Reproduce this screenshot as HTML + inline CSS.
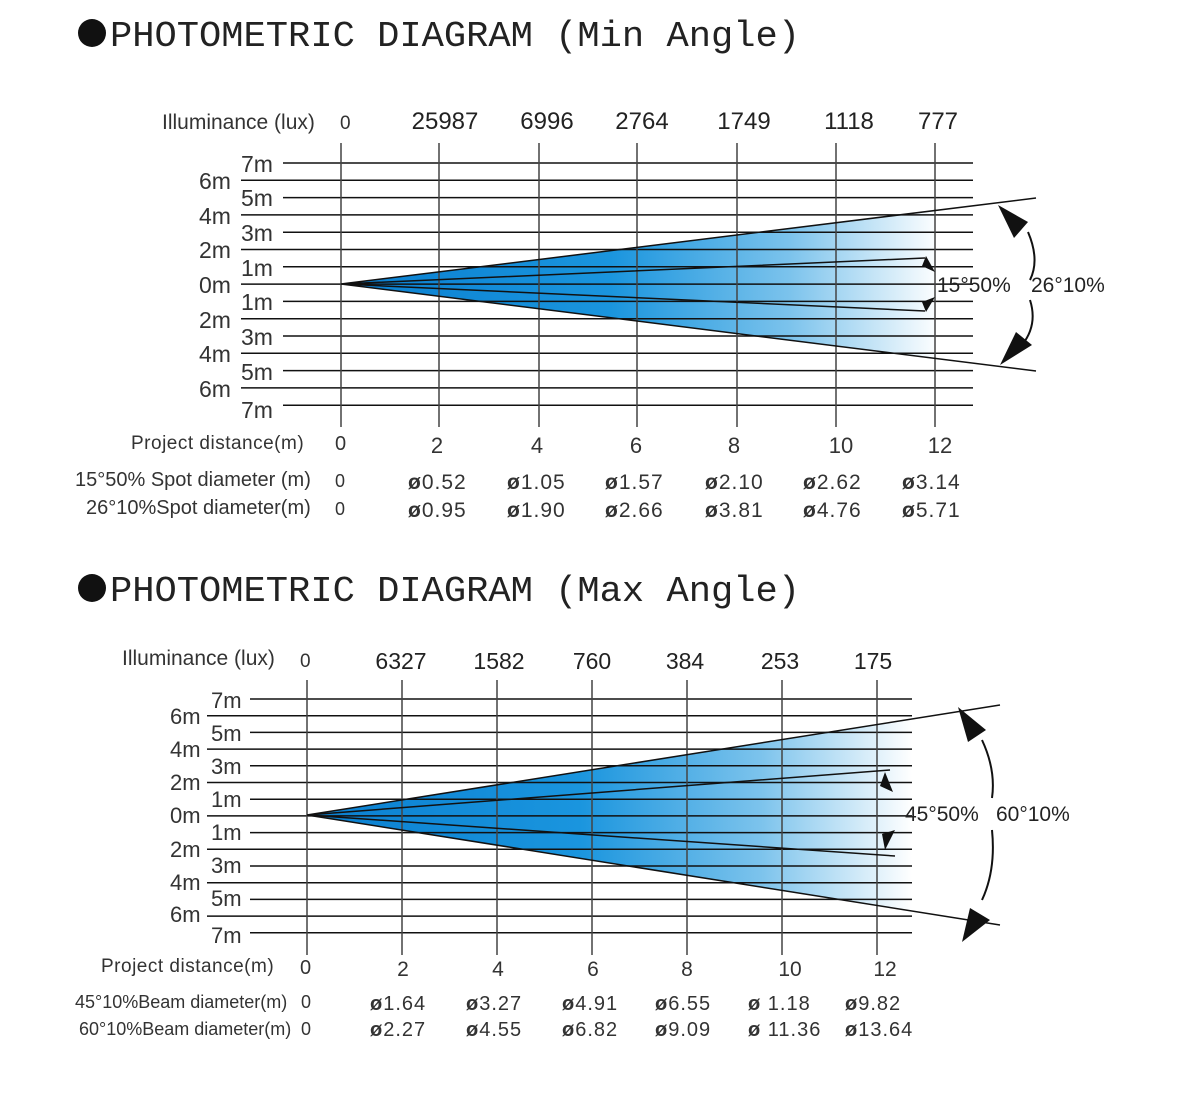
<!DOCTYPE html>
<html><head><meta charset="utf-8"><style>body{margin:0;background:#fff}svg{display:block}tspan.o{font-weight:bold}</style></head><body>
<svg width="1200" height="1094" viewBox="0 0 1200 1094" xmlns="http://www.w3.org/2000/svg" font-family="Liberation Sans, sans-serif" fill="#222">
<defs>
<linearGradient id="g1" gradientUnits="userSpaceOnUse" x1="341" y1="0" x2="940" y2="0">
<stop offset="0" stop-color="#0a7fd0"/><stop offset="0.45" stop-color="#1a95de"/><stop offset="0.75" stop-color="#7cc3ec"/><stop offset="1" stop-color="#ffffff"/></linearGradient>
<linearGradient id="g2" gradientUnits="userSpaceOnUse" x1="307" y1="0" x2="912" y2="0">
<stop offset="0" stop-color="#0a7fd0"/><stop offset="0.45" stop-color="#1a95de"/><stop offset="0.75" stop-color="#7cc3ec"/><stop offset="1" stop-color="#ffffff"/></linearGradient>
</defs>
<circle cx="92" cy="33" r="14" fill="#111"/>
<text x="110" y="46" font-family="Liberation Mono, monospace" font-size="36" textLength="690" lengthAdjust="spacingAndGlyphs" fill="#222">PHOTOMETRIC DIAGRAM (Min Angle)</text>
<circle cx="92" cy="588" r="14" fill="#111"/>
<text x="110" y="601" font-family="Liberation Mono, monospace" font-size="36" textLength="690" lengthAdjust="spacingAndGlyphs" fill="#222">PHOTOMETRIC DIAGRAM (Max Angle)</text>

<!-- Chart 1 -->
<polygon points="341,284 1036,198 1036,371" fill="url(#g1)"/>
<rect x="936" y="180" width="110" height="200" fill="#fff"/>
<g stroke="#111" stroke-width="1.5" fill="none">
<path d="M283 163H973M283 197.6H973M283 232.2H973M283 266.8H973M283 301.4H973M283 336H973M283 370.6H973M283 405.2H973M241 180.3H973M241 214.9H973M241 249.5H973M241 284.1H973M241 318.7H973M241 353.3H973M241 387.9H973"/>
<path d="M341 143V427M439 143V427M539 143V427M637 143V427M737 143V427M836 143V427M935 143V427" stroke="#444"/>
<path d="M341 284L1036 198M341 284L1036 371M341 284L925 258M341 284L925 311"/>
<path d="M1028 232Q1040 260 1030 280M1030 300Q1038 325 1022 345" stroke-width="2"/>
</g>
<g fill="#111">
<polygon points="998,205 1028,222 1014,238"/>
<polygon points="1000,365 1032,345 1016,332"/>
<polygon points="926,256 935,272 922,266"/>
<polygon points="926,312 935,297 922,302"/>
</g>
<text x="937" y="292" font-size="21">15°50%</text><text x="1031" y="292" font-size="21">26°10%</text>
<text x="162" y="129" font-size="21" fill="#333">Illuminance (lux)</text><text x="340" y="129" font-size="19" fill="#333">0</text>
<g font-size="24" text-anchor="middle" fill="#222">
<text x="445" y="129">25987</text><text x="547" y="129">6996</text><text x="642" y="129">2764</text><text x="744" y="129">1749</text><text x="849" y="129">1118</text><text x="938" y="129">777</text>
</g>
<g font-size="23" fill="#333">
<text x="241" y="172">7m</text><text x="199" y="189">6m</text><text x="241" y="206">5m</text><text x="199" y="224">4m</text><text x="241" y="241">3m</text><text x="199" y="258">2m</text><text x="241" y="276">1m</text><text x="199" y="293">0m</text><text x="241" y="310">1m</text><text x="199" y="328">2m</text><text x="241" y="345">3m</text><text x="199" y="362">4m</text><text x="241" y="380">5m</text><text x="199" y="397">6m</text><text x="241" y="418">7m</text>
</g>
<text x="131" y="449" font-size="19" fill="#333" letter-spacing="0.5">Project distance(m)</text><text x="335" y="450" font-size="20" fill="#333">0</text>
<g font-size="22" text-anchor="middle" fill="#333">
<text x="437" y="453">2</text><text x="537" y="453">4</text><text x="636" y="453">6</text><text x="734" y="453">8</text><text x="841" y="453">10</text><text x="940" y="453">12</text>
</g>
<text x="75" y="486" font-size="20" fill="#333">15°50% Spot diameter (m)</text><text x="335" y="487" font-size="18" fill="#333">0</text>
<text x="86" y="514" font-size="20" fill="#333">26°10%Spot diameter(m)</text><text x="335" y="515" font-size="18" fill="#333">0</text>
<g font-size="21" fill="#333" letter-spacing="1">
<text x="408" y="489"><tspan class="o">ø</tspan>0.52</text><text x="507" y="489"><tspan class="o">ø</tspan>1.05</text><text x="605" y="489"><tspan class="o">ø</tspan>1.57</text><text x="705" y="489"><tspan class="o">ø</tspan>2.10</text><text x="803" y="489"><tspan class="o">ø</tspan>2.62</text><text x="902" y="489"><tspan class="o">ø</tspan>3.14</text>
<text x="408" y="517"><tspan class="o">ø</tspan>0.95</text><text x="507" y="517"><tspan class="o">ø</tspan>1.90</text><text x="605" y="517"><tspan class="o">ø</tspan>2.66</text><text x="705" y="517"><tspan class="o">ø</tspan>3.81</text><text x="803" y="517"><tspan class="o">ø</tspan>4.76</text><text x="902" y="517"><tspan class="o">ø</tspan>5.71</text>
</g>

<!-- Chart 2 -->
<polygon points="307,815 1000,705 1000,925" fill="url(#g2)"/>
<rect x="912" y="690" width="100" height="250" fill="#fff"/>
<g stroke="#111" stroke-width="1.5" fill="none">
<path d="M250 699H912M250 732.4H912M250 765.8H912M250 799.2H912M250 832.6H912M250 866H912M250 899.4H912M250 932.8H912M207 715.7H912M207 749.1H912M207 782.5H912M207 815.9H912M207 849.3H912M207 882.7H912M207 916.1H912"/>
<path d="M307 680V955M402 680V955M497 680V955M592 680V955M687 680V955M782 680V955M877 680V955" stroke="#444"/>
<path d="M307 815L1000 705M307 815L1000 925M307 815L890 770M307 815L895 856"/>
<path d="M982 740Q996 770 992 798M992 830Q996 870 982 900" stroke-width="2"/>
</g>
<g fill="#111">
<polygon points="958,707 986,730 968,742"/>
<polygon points="962,942 990,920 970,908"/>
<polygon points="885,772 893,792 880,786"/>
<polygon points="885,850 895,830 882,834"/>
</g>
<text x="905" y="821" font-size="21">45°50%</text><text x="996" y="821" font-size="21">60°10%</text>
<text x="122" y="665" font-size="21" fill="#333">Illuminance (lux)</text><text x="300" y="667" font-size="19" fill="#333">0</text>
<g font-size="23" text-anchor="middle" fill="#222">
<text x="401" y="669">6327</text><text x="499" y="669">1582</text><text x="592" y="669">760</text><text x="685" y="669">384</text><text x="780" y="669">253</text><text x="873" y="669">175</text>
</g>
<g font-size="22" fill="#333">
<text x="211" y="708">7m</text><text x="170" y="724">6m</text><text x="211" y="741">5m</text><text x="170" y="757">4m</text><text x="211" y="774">3m</text><text x="170" y="790">2m</text><text x="211" y="807">1m</text><text x="170" y="823">0m</text><text x="211" y="840">1m</text><text x="170" y="857">2m</text><text x="211" y="873">3m</text><text x="170" y="890">4m</text><text x="211" y="906">5m</text><text x="170" y="922">6m</text><text x="211" y="943">7m</text>
</g>
<text x="101" y="972" font-size="19" fill="#333" letter-spacing="0.5">Project distance(m)</text><text x="300" y="974" font-size="20" fill="#333">0</text>
<g font-size="21" text-anchor="middle" fill="#333">
<text x="403" y="976">2</text><text x="498" y="976">4</text><text x="593" y="976">6</text><text x="687" y="976">8</text><text x="790" y="976">10</text><text x="885" y="976">12</text>
</g>
<text x="75" y="1008" font-size="18" fill="#333">45°10%Beam diameter(m)</text><text x="301" y="1008" font-size="18" fill="#333">0</text>
<text x="79" y="1035" font-size="18" fill="#333">60°10%Beam diameter(m)</text><text x="301" y="1035" font-size="18" fill="#333">0</text>
<g font-size="20" fill="#333" letter-spacing="1">
<text x="370" y="1010"><tspan class="o">ø</tspan>1.64</text><text x="466" y="1010"><tspan class="o">ø</tspan>3.27</text><text x="562" y="1010"><tspan class="o">ø</tspan>4.91</text><text x="655" y="1010"><tspan class="o">ø</tspan>6.55</text><text x="748" y="1010"><tspan class="o">ø</tspan> 1.18</text><text x="845" y="1010"><tspan class="o">ø</tspan>9.82</text>
<text x="370" y="1036"><tspan class="o">ø</tspan>2.27</text><text x="466" y="1036"><tspan class="o">ø</tspan>4.55</text><text x="562" y="1036"><tspan class="o">ø</tspan>6.82</text><text x="655" y="1036"><tspan class="o">ø</tspan>9.09</text><text x="748" y="1036"><tspan class="o">ø</tspan> 11.36</text><text x="845" y="1036"><tspan class="o">ø</tspan>13.64</text>
</g>
</svg>
</body></html>
